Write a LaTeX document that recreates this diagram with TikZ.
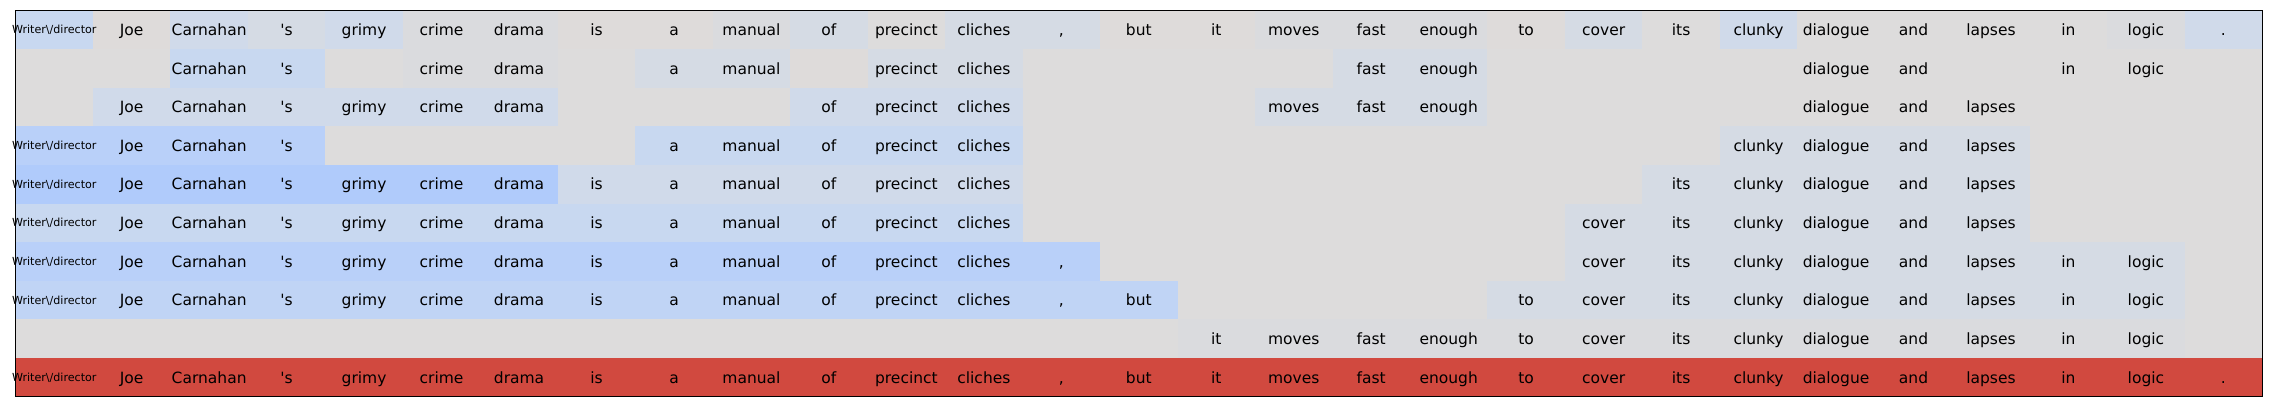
\documentclass[tikz,border=0pt]{standalone}
\usepackage{fontspec}
\newfontfamily\cellfont{DejaVu Sans}
\newcommand\tagfont{\fontsize{11.1}{13}\selectfont}
\definecolor{gN}{RGB}{221,220,220}
\definecolor{gW}{RGB}{222,219,218}
\definecolor{gC}{RGB}{218,219,222}
\definecolor{bA}{RGB}{213,219,228}
\definecolor{bB}{RGB}{208,218,234}
\definecolor{bC}{RGB}{200,216,240}
\definecolor{bD}{RGB}{192,212,245}
\definecolor{bE}{RGB}{185,208,249}
\definecolor{bF}{RGB}{176,203,251}
\definecolor{rd}{RGB}{209,73,63}
\tikzset{tok/.style={font={\cellfont\fontsize{15.5}{18}\selectfont}, anchor=base, inner sep=0pt}}
\tikzset{frame/.style={draw=black, line width=1.2pt}}
% tokens of the sentence, one macro per column
\foreach \w [count=\i from 0] in {{\tagfont Writer\textbackslash/director}, Joe, Carnahan, 's, grimy, crime, drama, is, a, manual, of, precinct, cliches, {,}, but, it, moves, fast, enough, to, cover, its, clunky, dialogue, and, lapses, in, logic, .}
  {\expandafter\global\expandafter\let\csname tk\i\endcsname\w}

\begin{document}
\begin{tikzpicture}[x=77.47pt, y=-38.62pt]

  \useasboundingbox (-15.5pt,10.5pt) rectangle (2256.5pt,-401.5pt);
  \fill[white] (-15.5pt,10.5pt) rectangle (2256.5pt,-401.5pt);
  \fill[gN] (0,0) rectangle (29,10);

  % row / coloured runs / columns with a word
  \foreach \r/\runs/\spans in {
    0/{0/0/bC, 1/1/gW, 2/2/bB, 3/3/bA, 4/4/bB, 5/6/gC, 7/8/gW, 9/9/gC, 10/10/bA, 12/13/bA, 14/15/gW, 16/18/gC, 19/19/gW, 20/20/bA, 22/22/bB, 27/27/gC, 28/28/bB}/{0/28},
    1/{2/3/bC, 5/6/gC, 8/9/bA, 10/10/gW, 11/12/bA, 17/18/bA}/{2/3, 5/6, 8/9, 11/12, 17/18, 23/24, 26/27},
    2/{1/6/bB, 10/12/bB, 16/18/bA}/{1/6, 10/12, 16/18, 23/25},
    3/{0/3/bE, 8/12/bC, 22/25/bA}/{0/3, 8/12, 22/25},
    4/{0/6/bF, 7/12/bB, 21/25/bA}/{0/12, 21/25},
    5/{0/12/bC, 20/25/bA}/{0/12, 20/25},
    6/{0/13/bE, 20/27/bA}/{0/13, 20/27},
    7/{0/14/bD, 19/27/bA}/{0/14, 19/27},
    8/{15/27/gC}/{15/27},
    9/{0/28/rd}/{0/28}}
  {
    \foreach \a/\b/\col in \runs
      \fill[\col] (\a,\r) rectangle (\b+1,\r+1);
    \foreach \a/\b in \spans {
      \foreach \c in {\a,...,\b} {
        \edef\dy{\ifnum\c=0 -4pt\else -5.65pt\fi}
        \node[tok, yshift=\dy] (t-\r-\c) at (\c+0.5,\r+0.5) {\csname tk\c\endcsname};
      }
    }
  }

  \draw[frame] (0,0) rectangle (29,10);

\end{tikzpicture}
\end{document}
